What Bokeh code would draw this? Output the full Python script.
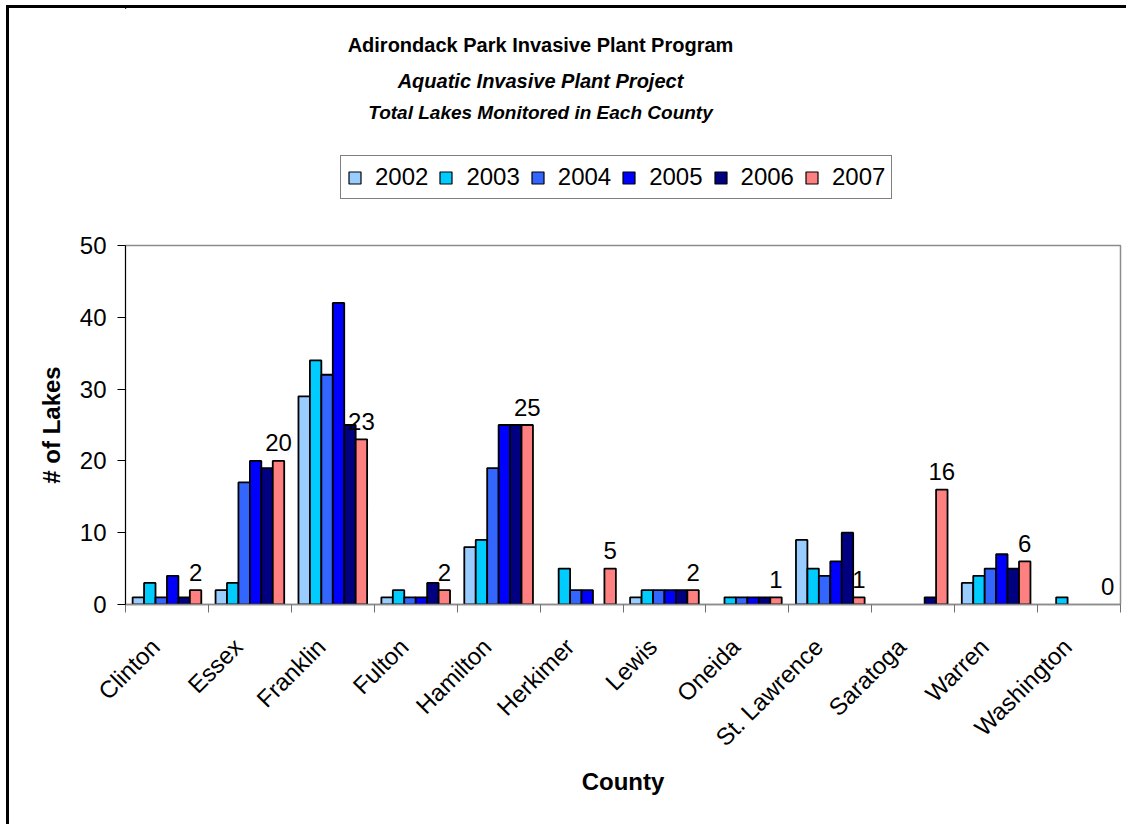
import math
from bokeh.plotting import figure
from bokeh.layouts import column
from bokeh.models import (Range1d, FixedTicker, Legend, LegendItem, Label,
                          ColumnDataSource)
from bokeh.core.properties import value
from bokeh.embed import file_html
from bokeh.resources import INLINE

# ---------------- data ----------------
counties = ["Clinton", "Essex", "Franklin", "Fulton", "Hamilton", "Herkimer",
            "Lewis", "Oneida", "St. Lawrence", "Saratoga", "Warren", "Washington"]
years = ["2002", "2003", "2004", "2005", "2006", "2007"]
v2002 = [1, 2, 29, 1, 8, 0, 1, 0, 9, 0, 3, 0]
v2003 = [3, 3, 34, 2, 9, 5, 2, 1, 5, 0, 4, 1]
v2004 = [1, 17, 32, 1, 19, 2, 2, 1, 4, 0, 5, 0]
v2005 = [4, 20, 42, 1, 25, 2, 2, 1, 6, 0, 7, 0]
v2006 = [1, 19, 25, 3, 25, 0, 2, 1, 10, 1, 5, 0]
v2007 = [2, 20, 23, 2, 25, 5, 2, 1, 1, 16, 6, 0]
series = [v2002, v2003, v2004, v2005, v2006, v2007]
colors = ["#99CCFF", "#00CCFF", "#3366FF", "#0000FF", "#000080", "#FF8080"]
y_ticks = [0, 10, 20, 30, 40, 50]
titles = ["Adirondack Park Invasive Plant Program",
          "Aquatic Invasive Plant Project",
          "Total Lakes Monitored in Each County"]

FONT = "Liberation Sans"
BAR_W = 0.138
BAR_LINE = 1.8
LEFT_B, RIGHT_B = 116, 9          # shared side borders -> plot area 125..1120 px
W = 1120

# ================= header (titles + legend) =================
TOP_H = 217
head = figure(width=W, height=TOP_H, output_backend="svg", toolbar_location=None,
              title=None, x_axis_type=None, y_axis_type=None,
              x_range=Range1d(LEFT_B + 9, W - RIGHT_B + 9), y_range=Range1d(TOP_H + 8, 8),
              min_border_left=LEFT_B, min_border_right=RIGHT_B,
              min_border_top=0, min_border_bottom=0)
head.outline_line_color = None
head.background_fill_color = "white"
head.border_fill_color = "white"
head.xgrid.visible = False
head.ygrid.visible = False

title_specs = [(540, 44, "20px", "bold"),
               (540, 80, "20px", "bold italic"),
               (540, 112, "19px", "bold italic")]
for txt, (tx, ty, fs, st) in zip(titles, title_specs):
    head.add_layout(Label(x=tx, y=ty, text=txt, text_align="center",
                          text_baseline="middle", text_font=FONT,
                          text_font_size=fs, text_font_style=st,
                          text_color="black"))

# legend swatches (renderers kept outside the visible header area)
legend_renderers = []
for yr, col in zip(years, colors):
    r = head.vbar(x=[-5000], top=[1], bottom=0, width=1, fill_color=col,
                  line_color="black", line_width=1.2)
    legend_renderers.append(r)

legend = Legend(items=[LegendItem(label=yr, renderers=[r])
                       for yr, r in zip(years, legend_renderers)],
                location=(215, 26), orientation="horizontal",
                label_text_font=FONT, label_text_font_size="24px",
                label_text_color="black", glyph_width=15, glyph_height=15,
                label_standoff=13, spacing=10, padding=6, margin=0,
                label_height=30, border_line_color="black", border_line_width=1,
                background_fill_color="white", background_fill_alpha=1)
head.add_layout(legend)

# ================= main chart =================
p = figure(width=W, height=602, output_backend="svg", toolbar_location=None,
           title=None,
           x_range=Range1d(-0.5, len(counties) - 0.5), y_range=Range1d(0, 50),
           min_border_left=LEFT_B, min_border_right=RIGHT_B, min_border_top=20,
           min_border_bottom=223)
p.background_fill_color = "white"
p.border_fill_color = "white"
p.outline_line_color = "#8c8c8c"
p.outline_line_width = 1.5
p.xgrid.visible = False
p.ygrid.visible = False

for j, (yr, vals, col) in enumerate(zip(years, series, colors)):
    xs = [i + (j - 2.5) * BAR_W for i, v in enumerate(vals) if v > 0]
    tops = [v for v in vals if v > 0]
    src = ColumnDataSource(dict(x=xs, top=tops))
    p.vbar(x="x", top="top", bottom=0, width=BAR_W, source=src,
           fill_color=col, line_color="black", line_width=BAR_LINE)

# value labels over the 2007 bars
lab_src = ColumnDataSource(dict(x=[i + 2.5 * BAR_W for i in range(len(counties))],
                                y=v2007, t=[str(v) for v in v2007]))
p.text(x="x", y="y", text="t", source=lab_src, text_align="center",
       text_baseline="alphabetic", y_offset=-18, text_font=value(FONT),
       text_font_size=value("24px"), text_color="black")

ya = p.yaxis[0]
ya.ticker = FixedTicker(ticks=y_ticks)
ya.axis_line_color = "black"
ya.axis_line_width = 1
ya.major_tick_line_color = "black"
ya.major_tick_out = 8
ya.major_tick_in = 0
ya.minor_tick_line_color = None
ya.major_label_text_font = FONT
ya.major_label_text_font_size = "24px"
ya.major_label_text_color = "black"
ya.major_label_standoff = 11
ya.axis_label = "# of Lakes"
ya.axis_label_text_font = FONT
ya.axis_label_text_font_size = "24px"
ya.axis_label_text_font_style = "bold"
ya.axis_label_text_color = "black"
ya.axis_label_standoff = 12

# category names sit slightly left of each group centre, as in the original
LABEL_SHIFT = 0.14
label_pos = [round(i - LABEL_SHIFT, 2) for i in range(len(counties))]
xa = p.xaxis[0]
xa.ticker = FixedTicker(ticks=label_pos,
                        minor_ticks=[i - 0.5 for i in range(len(counties) + 1)])
xa.major_label_overrides = {t: c for t, c in zip(label_pos, counties)}
xa.major_tick_line_color = None
xa.major_tick_out = 0
xa.major_tick_in = 0
xa.minor_tick_line_color = "#707070"
xa.minor_tick_out = 8
xa.minor_tick_in = 0
xa.axis_line_color = "#8c8c8c"
xa.axis_line_width = 1.5
xa.major_label_orientation = math.pi / 4
xa.major_label_text_font = FONT
xa.major_label_text_font_size = "24px"
xa.major_label_text_color = "black"
xa.major_label_standoff = 30
xa.axis_label = "County"
xa.axis_label_text_font = FONT
xa.axis_label_text_font_size = "24px"
xa.axis_label_text_font_style = "bold"
xa.axis_label_text_color = "black"
xa.axis_label_standoff = 4

layout = column(head, p, spacing=0)
# outer chart frame: left and top edges visible in the window
layout.styles = {"margin-left": "9px", "margin-top": "8px",
                 "box-shadow": "-3px -3px 0px 0px #000000"}

open("out.html", "w").write(file_html(layout, INLINE))
